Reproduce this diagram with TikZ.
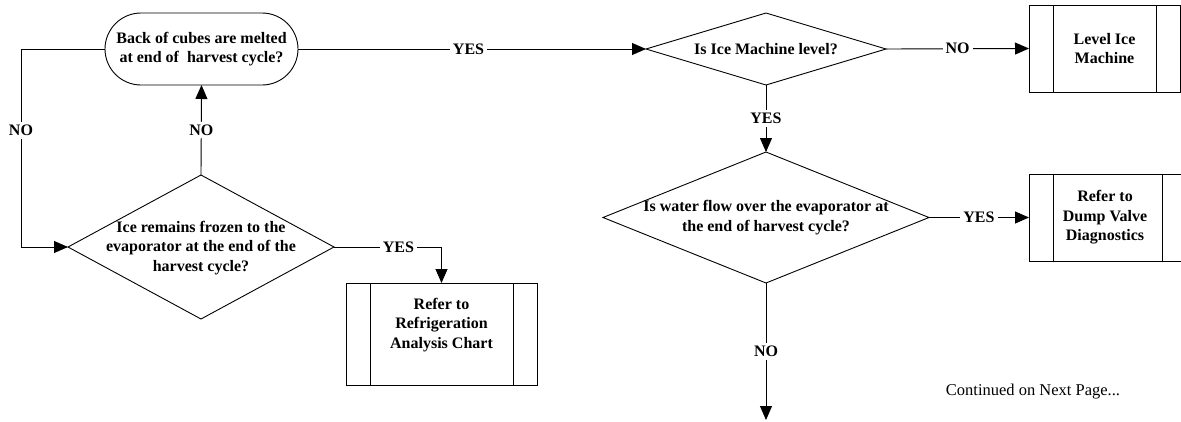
\documentclass[tikz,border=0pt]{standalone}
\usepackage{fontspec}
\setmainfont{Liberation Serif}
\usetikzlibrary{shapes.geometric,arrows.meta}
\newcommand{\boldq}{\fontsize{16}{19.5}\selectfont\bfseries}
\newcommand{\regq}{\fontsize{16.5}{19.5}\selectfont}
\tikzset{
  base/.style={draw, line width=0.9pt, outer sep=0pt, inner sep=0pt},
  term/.style={base, rounded corners=36pt, minimum width=193pt, minimum height=72pt, align=center, font=\boldq},
  dia/.style={base, diamond},
  txt/.style={align=center, font=\boldq, inner sep=0pt},
  proc/.style={base, rectangle, align=center, font=\boldq,
    path picture={
      \draw[line width=0.9pt] ([xshift=24pt]path picture bounding box.north west) -- ([xshift=24pt]path picture bounding box.south west);
      \draw[line width=0.9pt] ([xshift=-24pt]path picture bounding box.north east) -- ([xshift=-24pt]path picture bounding box.south east);
    }},
  lbl/.style={fill=white, font=\boldq, inner sep=3pt},
  conn/.style={line width=0.9pt},
  flow/.style={conn, -{Triangle[length=14pt,width=12pt]}}
}
\begin{document}
\begin{tikzpicture}[x=1pt,y=-1pt]
\useasboundingbox (0,0) rectangle (1181,421);
% nodes
\node[term] (t) at (201.5,49) {Back of cubes are melted\\at end of\ \ harvest cycle?};
\node[dia, minimum width=266pt, minimum height=144pt] (d1) at (201,247) {};
\node[txt] (d1t) at (201,248) {Ice remains frozen to the\\evaporator at the end of the\\harvest cycle?};
\node[proc, minimum width=191pt, minimum height=102pt] (b1) at (441.5,334) {};
\node[txt] (b1t) at (441.5,325) {Refer to\\Refrigeration\\Analysis Chart};
\node[dia, minimum width=240pt, minimum height=72pt] (d2) at (766,49) {};
\node[txt] (d2t) at (766,49) {Is Ice Machine level?};
\node[proc, minimum width=151pt, minimum height=87pt] (b2) at (1104.5,48.5) {Level Ice\\Machine};
\node[dia, minimum width=326pt, minimum height=131pt] (d3) at (766,217.5) {};
\node[txt] (d3t) at (766,217.5) {Is water flow over the evaporator at\\the end of harvest cycle?};
\node[proc, minimum width=157pt, minimum height=87pt] (b3) at (1107.5,217.5) {};
\node[txt] (b3t) at (1105,217.5) {Refer to\\Dump Valve\\Diagnostics};
\node[font=\regq, inner sep=0pt] (cont) at (1033,392) {Continued on Next Page...};
\coordinate (c1) at (21,49);
\coordinate (c2) at (21,247);
\coordinate (e) at (766,420);
% connectors
\draw[flow] (t.east) -- node[lbl, pos=0.49]{YES} (d2.west);
\draw[flow] (t.west) -- (c1) -- node[lbl, pos=0.41]{NO} (c2) -- (d1.west);
\draw[flow] (d1.north) -- node[lbl]{NO} (t.south);
\draw[flow] (d1.east) -- node[lbl, pos=0.6]{YES} (b1.north |- d1.east) -- (b1.north);
\draw[flow] (d2.east) -- node[lbl]{NO} (b2.west);
\draw[flow] (d2.south) -- node[lbl]{YES} (d3.north);
\draw[flow] (d3.east) -- node[lbl]{YES} (b3.west);
\draw[flow] (d3.south) -- node[lbl]{NO} (e);
\end{tikzpicture}
\end{document}
